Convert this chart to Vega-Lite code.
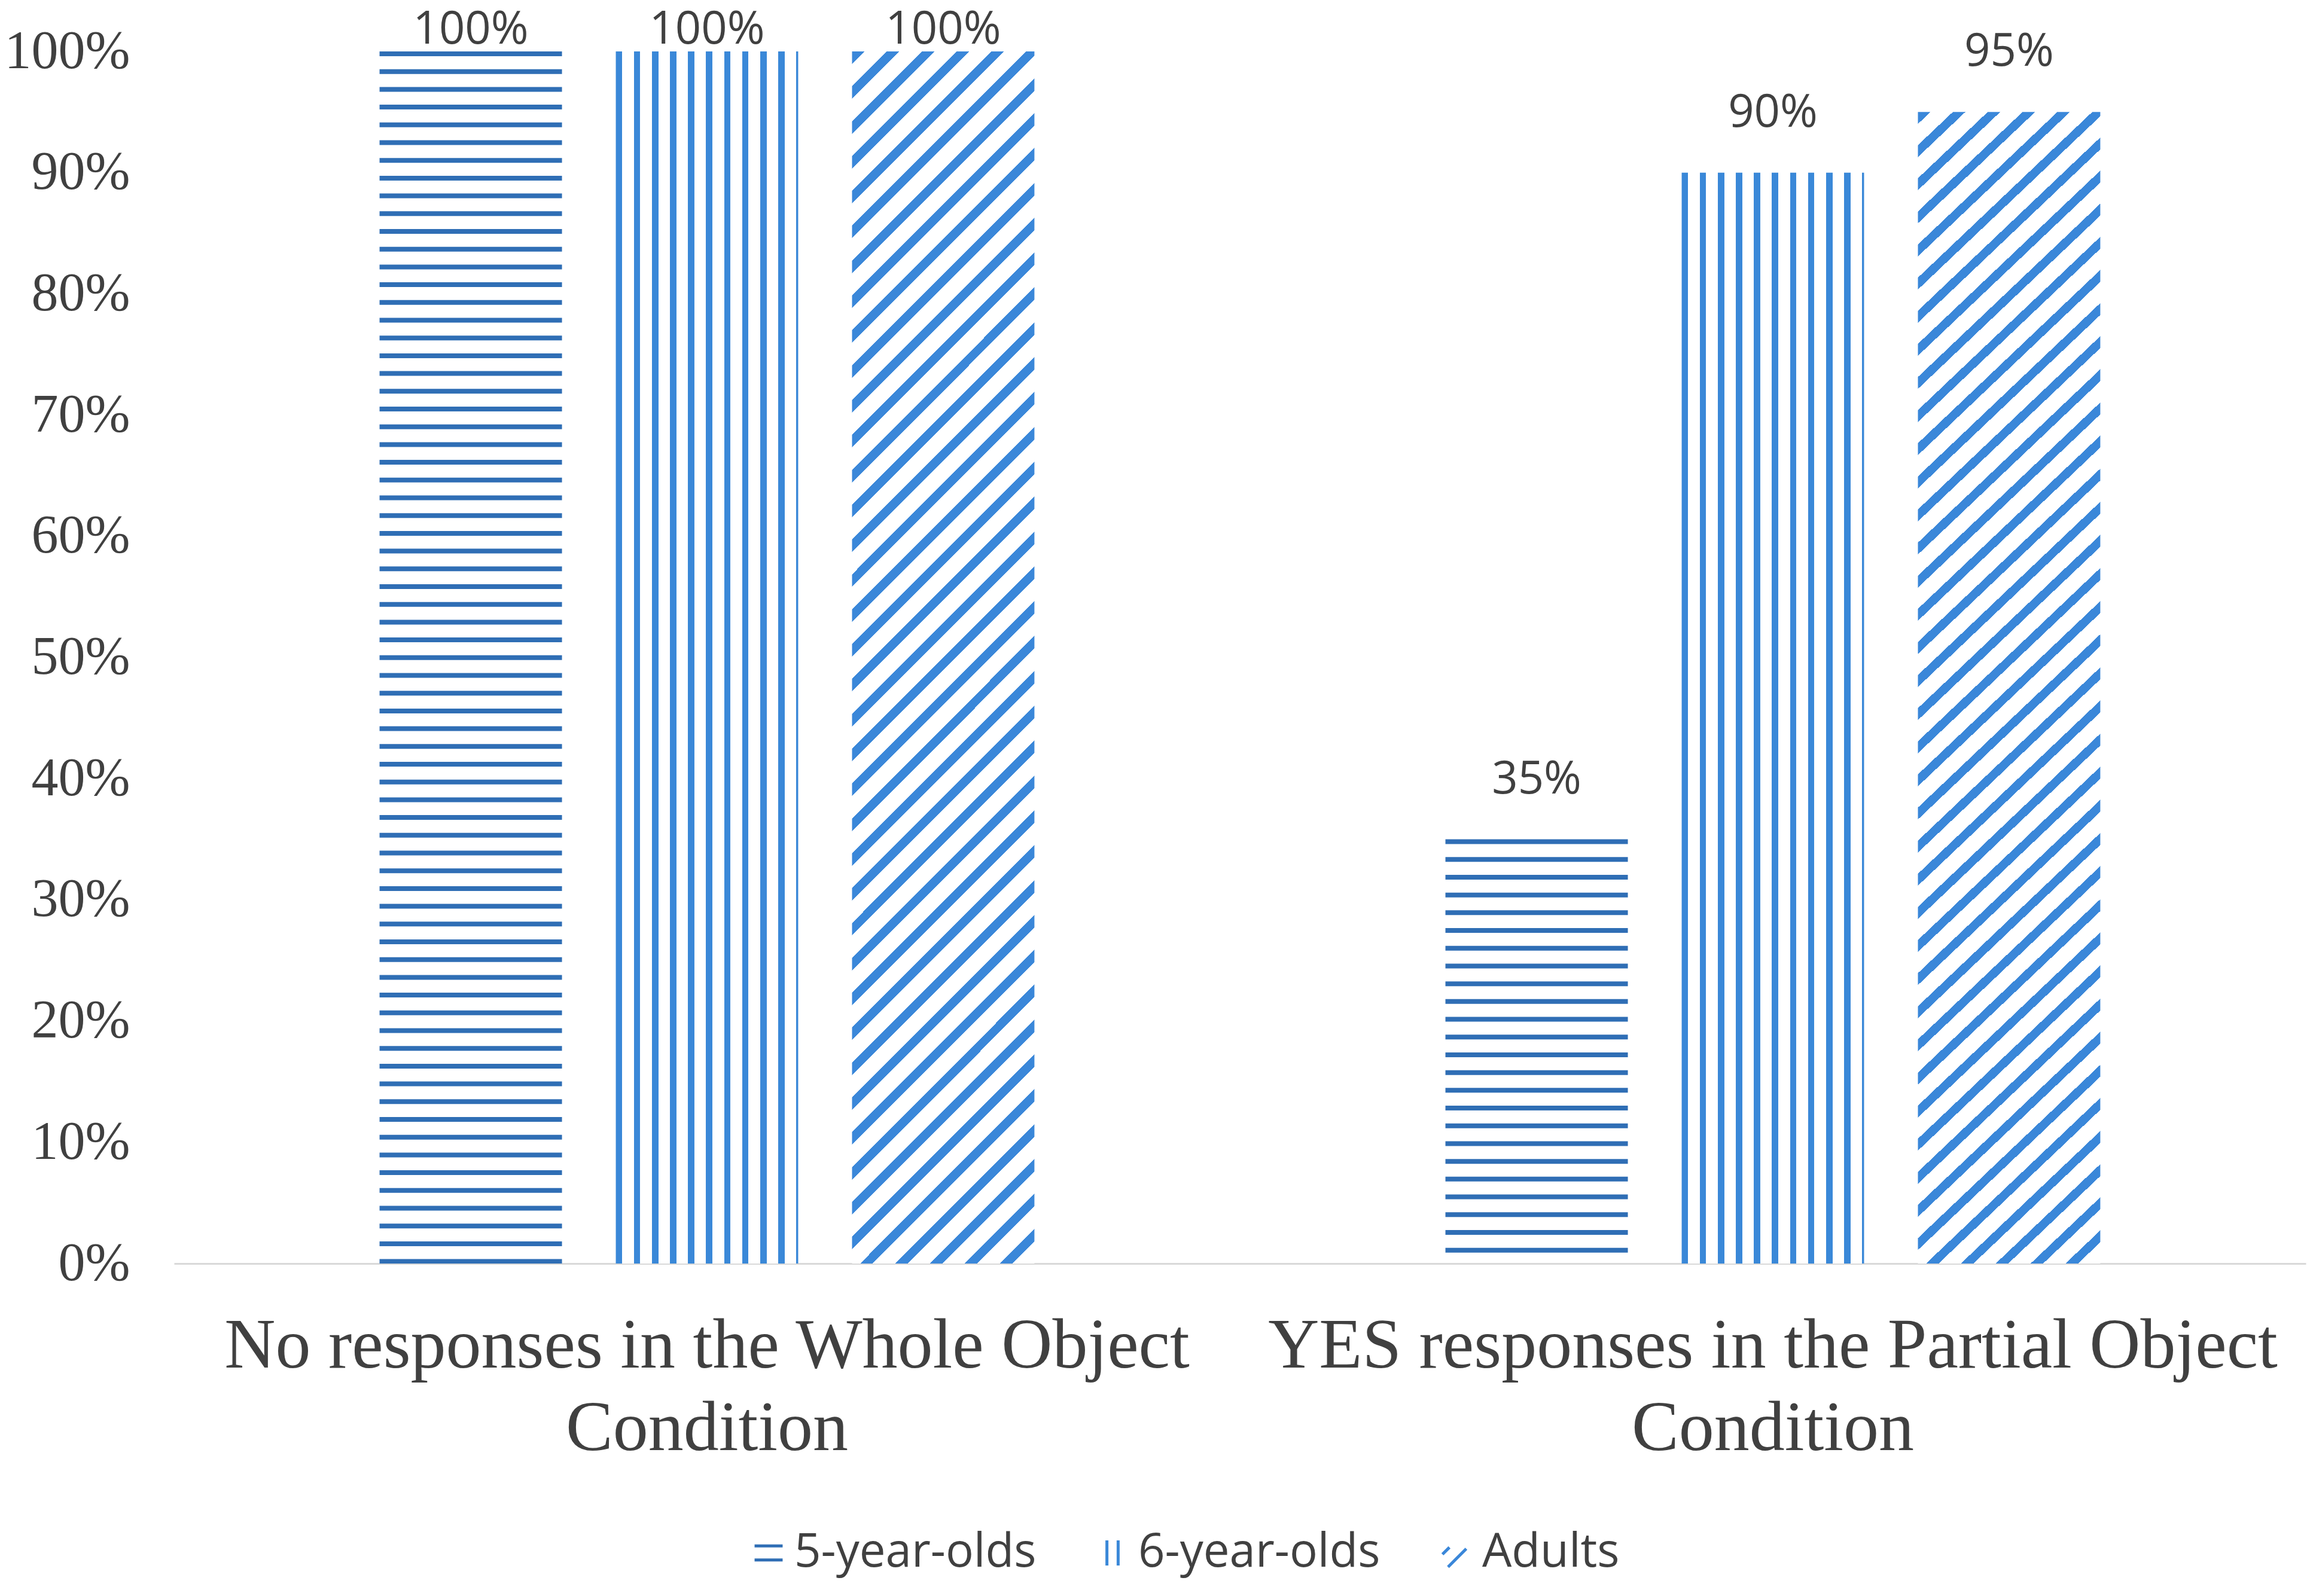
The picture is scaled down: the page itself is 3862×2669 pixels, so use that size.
{
  "$schema": "https://vega.github.io/schema/vega-lite/v6.json",
  "width": 3564,
  "height": 2027,
  "autosize": "none",
  "padding": {"left": 291, "top": 86, "right": 7, "bottom": 556},
  "background": "white",
  "data": {
    "values": [
      {"condition": "No responses in the Whole Object Condition", "group": "5-year-olds", "value": 1.0},
      {"condition": "No responses in the Whole Object Condition", "group": "6-year-olds", "value": 1.0},
      {"condition": "No responses in the Whole Object Condition", "group": "Adults", "value": 1.0},
      {"condition": "YES responses in the Partial Object Condition", "group": "5-year-olds", "value": 0.35},
      {"condition": "YES responses in the Partial Object Condition", "group": "6-year-olds", "value": 0.9},
      {"condition": "YES responses in the Partial Object Condition", "group": "Adults", "value": 0.95}
    ]
  },
  "encoding": {
    "x": {
      "field": "condition",
      "type": "nominal",
      "scale": {
        "domain": ["No responses in the Whole Object Condition", "YES responses in the Partial Object Condition"],
        "paddingInner": 0,
        "paddingOuter": 0
      },
      "axis": {
        "title": null,
        "ticks": false,
        "labelAngle": 0,
        "labelFont": "Liberation Serif",
        "labelFontSize": 118,
        "labelLineHeight": 138,
        "labelColor": "#404040",
        "labelPadding": 80,
        "labelLimit": 3000,
        "labelExpr": "datum.value == 'No responses in the Whole Object Condition' ? ['No responses in the Whole Object', 'Condition'] : ['YES responses in the Partial Object', 'Condition']",
        "domainColor": "#d9d9d9",
        "domainWidth": 3,
        "grid": false
      }
    },
    "xOffset": {
      "field": "group",
      "type": "nominal",
      "scale": {
        "domain": ["5-year-olds", "6-year-olds", "Adults"],
        "paddingInner": 0.228,
        "paddingOuter": 0.87
      }
    },
    "y": {
      "field": "value",
      "type": "quantitative",
      "scale": {"domain": [0, 1], "nice": false},
      "axis": {
        "title": null,
        "values": [0, 0.1, 0.2, 0.3, 0.4, 0.5, 0.6, 0.7, 0.8, 0.9, 1],
        "format": ".0%",
        "ticks": false,
        "domain": false,
        "grid": false,
        "labelFont": "Liberation Serif",
        "labelFontSize": 90,
        "labelColor": "#404040",
        "labelPadding": 74,
        "labelLimit": 1000
      }
    }
  },
  "layer": [
    {
      "transform": [{"filter": "datum.group == '5-year-olds'"}],
      "mark": {"type": "rule", "strokeWidth": 305, "strokeDash": [8, 21.7], "strokeCap": "butt", "color": "#2F6EB5"},
      "encoding": {"y2": {"datum": 0}}
    },
    {
      "transform": [{"filter": "datum.group == '6-year-olds'"}],
      "mark": {
        "type": "bar",
        "fill": {
          "gradient": "linear",
          "x1": 0, "y1": 0, "x2": 1, "y2": 0,
          "stops": [
            {"offset": 0, "color": "#3A88D8"}, {"offset": 0.0347, "color": "#3A88D8"}, {"offset": 0.0347, "color": "#ffffff"}, {"offset": 0.099, "color": "#ffffff"},
            {"offset": 0.099, "color": "#3A88D8"}, {"offset": 0.1337, "color": "#3A88D8"}, {"offset": 0.1337, "color": "#ffffff"}, {"offset": 0.198, "color": "#ffffff"},
            {"offset": 0.198, "color": "#3A88D8"}, {"offset": 0.2327, "color": "#3A88D8"}, {"offset": 0.2327, "color": "#ffffff"}, {"offset": 0.297, "color": "#ffffff"},
            {"offset": 0.297, "color": "#3A88D8"}, {"offset": 0.3317, "color": "#3A88D8"}, {"offset": 0.3317, "color": "#ffffff"}, {"offset": 0.396, "color": "#ffffff"},
            {"offset": 0.396, "color": "#3A88D8"}, {"offset": 0.4307, "color": "#3A88D8"}, {"offset": 0.4307, "color": "#ffffff"}, {"offset": 0.495, "color": "#ffffff"},
            {"offset": 0.495, "color": "#3A88D8"}, {"offset": 0.5297, "color": "#3A88D8"}, {"offset": 0.5297, "color": "#ffffff"}, {"offset": 0.5941, "color": "#ffffff"},
            {"offset": 0.5941, "color": "#3A88D8"}, {"offset": 0.6288, "color": "#3A88D8"}, {"offset": 0.6288, "color": "#ffffff"}, {"offset": 0.6931, "color": "#ffffff"},
            {"offset": 0.6931, "color": "#3A88D8"}, {"offset": 0.7278, "color": "#3A88D8"}, {"offset": 0.7278, "color": "#ffffff"}, {"offset": 0.7921, "color": "#ffffff"},
            {"offset": 0.7921, "color": "#3A88D8"}, {"offset": 0.8268, "color": "#3A88D8"}, {"offset": 0.8268, "color": "#ffffff"}, {"offset": 0.8911, "color": "#ffffff"},
            {"offset": 0.8911, "color": "#3A88D8"}, {"offset": 0.9258, "color": "#3A88D8"}, {"offset": 0.9258, "color": "#ffffff"}, {"offset": 0.9901, "color": "#ffffff"},
            {"offset": 0.9901, "color": "#3A88D8"}, {"offset": 1, "color": "#3A88D8"}
          ]
        }
      }
    },
    {
      "transform": [{"filter": "datum.group == 'Adults'"}],
      "mark": {
        "type": "bar",
        "fill": {
          "gradient": "linear",
          "x1": 0, "y1": 0, "x2": 0.1693, "y2": 1.125,
          "stops": [
            {"offset": 0, "color": "#3A87D9"}, {"offset": 0.009, "color": "#3A87D9"}, {"offset": 0.009, "color": "#ffffff"}, {"offset": 0.025, "color": "#ffffff"},
            {"offset": 0.025, "color": "#3A87D9"}, {"offset": 0.034, "color": "#3A87D9"}, {"offset": 0.034, "color": "#ffffff"}, {"offset": 0.05, "color": "#ffffff"},
            {"offset": 0.05, "color": "#3A87D9"}, {"offset": 0.059, "color": "#3A87D9"}, {"offset": 0.059, "color": "#ffffff"}, {"offset": 0.075, "color": "#ffffff"},
            {"offset": 0.075, "color": "#3A87D9"}, {"offset": 0.084, "color": "#3A87D9"}, {"offset": 0.084, "color": "#ffffff"}, {"offset": 0.1, "color": "#ffffff"},
            {"offset": 0.1, "color": "#3A87D9"}, {"offset": 0.109, "color": "#3A87D9"}, {"offset": 0.109, "color": "#ffffff"}, {"offset": 0.125, "color": "#ffffff"},
            {"offset": 0.125, "color": "#3A87D9"}, {"offset": 0.134, "color": "#3A87D9"}, {"offset": 0.134, "color": "#ffffff"}, {"offset": 0.15, "color": "#ffffff"},
            {"offset": 0.15, "color": "#3A87D9"}, {"offset": 0.159, "color": "#3A87D9"}, {"offset": 0.159, "color": "#ffffff"}, {"offset": 0.175, "color": "#ffffff"},
            {"offset": 0.175, "color": "#3A87D9"}, {"offset": 0.184, "color": "#3A87D9"}, {"offset": 0.184, "color": "#ffffff"}, {"offset": 0.2, "color": "#ffffff"},
            {"offset": 0.2, "color": "#3A87D9"}, {"offset": 0.209, "color": "#3A87D9"}, {"offset": 0.209, "color": "#ffffff"}, {"offset": 0.225, "color": "#ffffff"},
            {"offset": 0.225, "color": "#3A87D9"}, {"offset": 0.234, "color": "#3A87D9"}, {"offset": 0.234, "color": "#ffffff"}, {"offset": 0.25, "color": "#ffffff"},
            {"offset": 0.25, "color": "#3A87D9"}, {"offset": 0.259, "color": "#3A87D9"}, {"offset": 0.259, "color": "#ffffff"}, {"offset": 0.275, "color": "#ffffff"},
            {"offset": 0.275, "color": "#3A87D9"}, {"offset": 0.284, "color": "#3A87D9"}, {"offset": 0.284, "color": "#ffffff"}, {"offset": 0.3, "color": "#ffffff"},
            {"offset": 0.3, "color": "#3A87D9"}, {"offset": 0.309, "color": "#3A87D9"}, {"offset": 0.309, "color": "#ffffff"}, {"offset": 0.325, "color": "#ffffff"},
            {"offset": 0.325, "color": "#3A87D9"}, {"offset": 0.334, "color": "#3A87D9"}, {"offset": 0.334, "color": "#ffffff"}, {"offset": 0.35, "color": "#ffffff"},
            {"offset": 0.35, "color": "#3A87D9"}, {"offset": 0.359, "color": "#3A87D9"}, {"offset": 0.359, "color": "#ffffff"}, {"offset": 0.375, "color": "#ffffff"},
            {"offset": 0.375, "color": "#3A87D9"}, {"offset": 0.384, "color": "#3A87D9"}, {"offset": 0.384, "color": "#ffffff"}, {"offset": 0.4, "color": "#ffffff"},
            {"offset": 0.4, "color": "#3A87D9"}, {"offset": 0.409, "color": "#3A87D9"}, {"offset": 0.409, "color": "#ffffff"}, {"offset": 0.425, "color": "#ffffff"},
            {"offset": 0.425, "color": "#3A87D9"}, {"offset": 0.434, "color": "#3A87D9"}, {"offset": 0.434, "color": "#ffffff"}, {"offset": 0.45, "color": "#ffffff"},
            {"offset": 0.45, "color": "#3A87D9"}, {"offset": 0.459, "color": "#3A87D9"}, {"offset": 0.459, "color": "#ffffff"}, {"offset": 0.475, "color": "#ffffff"},
            {"offset": 0.475, "color": "#3A87D9"}, {"offset": 0.484, "color": "#3A87D9"}, {"offset": 0.484, "color": "#ffffff"}, {"offset": 0.5, "color": "#ffffff"},
            {"offset": 0.5, "color": "#3A87D9"}, {"offset": 0.509, "color": "#3A87D9"}, {"offset": 0.509, "color": "#ffffff"}, {"offset": 0.525, "color": "#ffffff"},
            {"offset": 0.525, "color": "#3A87D9"}, {"offset": 0.534, "color": "#3A87D9"}, {"offset": 0.534, "color": "#ffffff"}, {"offset": 0.55, "color": "#ffffff"},
            {"offset": 0.55, "color": "#3A87D9"}, {"offset": 0.559, "color": "#3A87D9"}, {"offset": 0.559, "color": "#ffffff"}, {"offset": 0.575, "color": "#ffffff"},
            {"offset": 0.575, "color": "#3A87D9"}, {"offset": 0.584, "color": "#3A87D9"}, {"offset": 0.584, "color": "#ffffff"}, {"offset": 0.6, "color": "#ffffff"},
            {"offset": 0.6, "color": "#3A87D9"}, {"offset": 0.609, "color": "#3A87D9"}, {"offset": 0.609, "color": "#ffffff"}, {"offset": 0.625, "color": "#ffffff"},
            {"offset": 0.625, "color": "#3A87D9"}, {"offset": 0.634, "color": "#3A87D9"}, {"offset": 0.634, "color": "#ffffff"}, {"offset": 0.65, "color": "#ffffff"},
            {"offset": 0.65, "color": "#3A87D9"}, {"offset": 0.659, "color": "#3A87D9"}, {"offset": 0.659, "color": "#ffffff"}, {"offset": 0.675, "color": "#ffffff"},
            {"offset": 0.675, "color": "#3A87D9"}, {"offset": 0.684, "color": "#3A87D9"}, {"offset": 0.684, "color": "#ffffff"}, {"offset": 0.7, "color": "#ffffff"},
            {"offset": 0.7, "color": "#3A87D9"}, {"offset": 0.709, "color": "#3A87D9"}, {"offset": 0.709, "color": "#ffffff"}, {"offset": 0.725, "color": "#ffffff"},
            {"offset": 0.725, "color": "#3A87D9"}, {"offset": 0.734, "color": "#3A87D9"}, {"offset": 0.734, "color": "#ffffff"}, {"offset": 0.75, "color": "#ffffff"},
            {"offset": 0.75, "color": "#3A87D9"}, {"offset": 0.759, "color": "#3A87D9"}, {"offset": 0.759, "color": "#ffffff"}, {"offset": 0.775, "color": "#ffffff"},
            {"offset": 0.775, "color": "#3A87D9"}, {"offset": 0.784, "color": "#3A87D9"}, {"offset": 0.784, "color": "#ffffff"}, {"offset": 0.8, "color": "#ffffff"},
            {"offset": 0.8, "color": "#3A87D9"}, {"offset": 0.809, "color": "#3A87D9"}, {"offset": 0.809, "color": "#ffffff"}, {"offset": 0.825, "color": "#ffffff"},
            {"offset": 0.825, "color": "#3A87D9"}, {"offset": 0.834, "color": "#3A87D9"}, {"offset": 0.834, "color": "#ffffff"}, {"offset": 0.85, "color": "#ffffff"},
            {"offset": 0.85, "color": "#3A87D9"}, {"offset": 0.859, "color": "#3A87D9"}, {"offset": 0.859, "color": "#ffffff"}, {"offset": 0.875, "color": "#ffffff"},
            {"offset": 0.875, "color": "#3A87D9"}, {"offset": 0.884, "color": "#3A87D9"}, {"offset": 0.884, "color": "#ffffff"}, {"offset": 0.9, "color": "#ffffff"},
            {"offset": 0.9, "color": "#3A87D9"}, {"offset": 0.909, "color": "#3A87D9"}, {"offset": 0.909, "color": "#ffffff"}, {"offset": 0.925, "color": "#ffffff"},
            {"offset": 0.925, "color": "#3A87D9"}, {"offset": 0.934, "color": "#3A87D9"}, {"offset": 0.934, "color": "#ffffff"}, {"offset": 0.95, "color": "#ffffff"},
            {"offset": 0.95, "color": "#3A87D9"}, {"offset": 0.959, "color": "#3A87D9"}, {"offset": 0.959, "color": "#ffffff"}, {"offset": 0.975, "color": "#ffffff"},
            {"offset": 0.975, "color": "#3A87D9"}, {"offset": 0.984, "color": "#3A87D9"}, {"offset": 0.984, "color": "#ffffff"}, {"offset": 1, "color": "#ffffff"}
          ]
        }
      }
    },
    {
      "transform": [{"filter": "datum.value < 1"}],
      "mark": {"type": "text", "font": "Open Sans", "fontSize": 76, "color": "#404040", "baseline": "middle", "dy": -100},
      "encoding": {"text": {"field": "value", "type": "quantitative", "format": ".0%"}}
    },
    {
      "transform": [{"filter": "datum.value >= 1"}],
      "mark": {"type": "text", "font": "Open Sans", "fontSize": 76, "color": "#404040", "baseline": "middle", "dy": -36},
      "encoding": {"text": {"field": "value", "type": "quantitative", "format": ".0%"}}
    },
    {
      "mark": {"type": "point", "filled": false, "opacity": 0},
      "encoding": {
        "shape": {
          "field": "group",
          "type": "nominal",
          "scale": {
            "domain": ["5-year-olds", "6-year-olds", "Adults"],
            "range": ["M-1,-0.5H1M-1,0.5H1", "M-0.4,-0.9V0.9M0.4,-0.9V0.9", "M-1,0.1L-0.5,-0.4M-0.6,1L0.7,-0.3"]
          },
          "legend": {
            "title": null,
            "orient": "none",
            "legendX": 955,
            "legendY": 2472,
            "direction": "horizontal",
            "columns": 3,
            "columnPadding": 88,
            "labelOffset": 4,
            "symbolSize": 2200,
            "symbolStrokeWidth": 5,
            "symbolOpacity": 1,
            "labelFont": "Open Sans",
            "labelFontSize": 78,
            "labelColor": "#404040",
            "labelLimit": 1000,
            "padding": 0
          }
        },
        "stroke": {
          "field": "group",
          "type": "nominal",
          "scale": {
            "domain": ["5-year-olds", "6-year-olds", "Adults"],
            "range": ["#2F6EB5", "#3A88D8", "#3A87D9"]
          },
          "legend": {
            "title": null,
            "orient": "none",
            "legendX": 955,
            "legendY": 2472,
            "direction": "horizontal",
            "columns": 3,
            "columnPadding": 88,
            "labelOffset": 4,
            "symbolSize": 2200,
            "symbolStrokeWidth": 5,
            "symbolOpacity": 1,
            "labelFont": "Open Sans",
            "labelFontSize": 78,
            "labelColor": "#404040",
            "labelLimit": 1000,
            "padding": 0
          }
        }
      }
    }
  ],
  "config": {
    "view": {"stroke": null}
  }
}
